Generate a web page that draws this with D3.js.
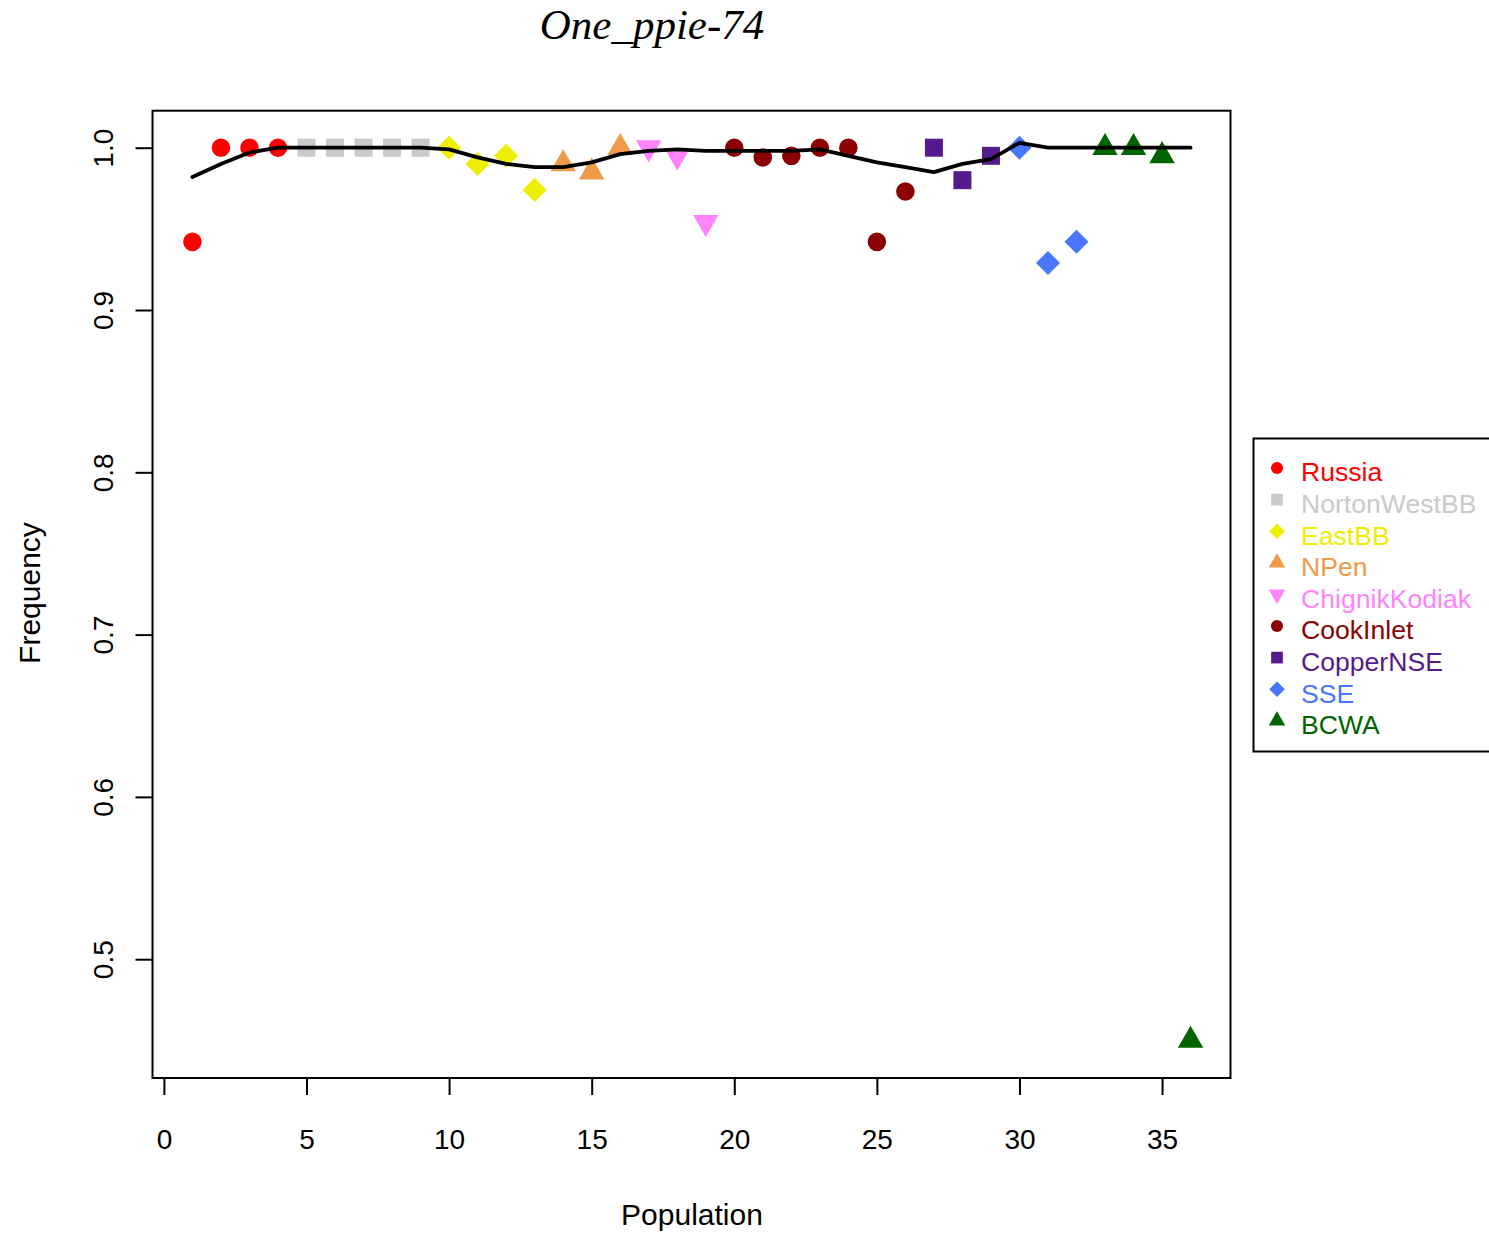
<!DOCTYPE html>
<html>
<head>
<meta charset="utf-8">
<script src="https://cdn.jsdelivr.net/npm/d3@7"></script>
<style>
  html, body { margin: 0; padding: 0; background: #fff; }
  svg { display: block; }
  text { font-family: "Liberation Sans", Arial, sans-serif; }
</style>
</head>
<body>
<svg id="chart" width="1489" height="1233"></svg>
<script>
// ---------------- data ----------------
const groups = ["Russia", "NortonWestBB", "EastBB", "NPen", "ChignikKodiak", "CookInlet", "CopperNSE", "SSE", "BCWA"];
const groupColors = ["#FF0000", "#CDC9C9", "#EEEE00", "#EE9A49", "#FF83FA", "#8B0000", "#551A8B", "#4876FF", "#006400"];
const groupShapes = ["circle", "square", "diamond", "triUp", "triDown", "circle", "square", "diamond", "triUp"];

const populations = [1, 2, 3, 4, 5, 6, 7, 8, 9, 10, 11, 12, 13, 14, 15, 16, 17, 18, 19, 20, 21, 22, 23, 24, 25, 26, 27, 28, 29, 30, 31, 32, 33, 34, 35, 36];
const popGroup =    [0, 0, 0, 0, 1, 1, 1, 1, 1, 2, 2, 2, 2, 3, 3, 3, 4, 4, 4, 5, 5, 5, 5, 5, 5, 5, 6, 6, 6, 7, 7, 7, 8, 8, 8, 8];
const frequency = [
  0.942, 1.0, 1.0, 1.0,
  1.0, 1.0, 1.0, 1.0, 1.0,
  1.0, 0.990, 0.995, 0.974,
  0.990, 0.985, 1.0,
  1.0, 0.995, 0.954,
  1.0, 0.994, 0.995, 1.0, 1.0, 0.942, 0.973,
  1.0, 0.980, 0.995,
  1.0, 0.929, 0.942,
  1.0, 1.0, 0.995, 0.450
];
const smoothed = [
  0.982, 0.990, 0.997, 1.0, 1.0, 1.0, 1.0, 1.0, 1.0,
  0.999, 0.994, 0.990, 0.988, 0.988, 0.991, 0.996,
  0.998, 0.999, 0.998, 0.998, 0.998, 0.998, 0.999, 0.995,
  0.991, 0.988, 0.985, 0.990, 0.993, 1.003, 1.0,
  1.0, 1.0, 1.0, 1.0, 1.0
];
const xTicks = [0, 5, 10, 15, 20, 25, 30, 35];
const yTicks = [0.5, 0.6, 0.7, 0.8, 0.9, 1.0];
const titleText = "One_ppie-74";
const xLabel = "Population";
const yLabel = "Frequency";

// ---------------- layout ----------------
const svg = d3.select("#chart");
const box = { left: 152.5, right: 1230.5, top: 110.7, bottom: 1078 };

const x = d3.scaleLinear().domain([-0.4, 37.4]).range([box.left, box.right]);
const y = d3.scaleLinear().domain([0.4268, 1.0228]).range([box.bottom, box.top]);

// marker path generators (R pch 15/16/17/18 and down-triangle)
function shapePath(shape, s) {
  const p = d3.path();
  if (shape === "circle") {
    p.arc(0, 0, 9.3 * s, 0, 2 * Math.PI);
  } else if (shape === "square") {
    const h = 9 * s;
    p.rect(-h, -h, 2 * h, 2 * h);
  } else if (shape === "diamond") {
    const h = 12 * s;
    p.moveTo(0, -h); p.lineTo(h, 0); p.lineTo(0, h); p.lineTo(-h, 0); p.closePath();
  } else if (shape === "triUp") {
    const r = 14.7 * s, xc = r * Math.sqrt(3) / 2;
    p.moveTo(0, -r); p.lineTo(xc, r / 2); p.lineTo(-xc, r / 2); p.closePath();
  } else if (shape === "triDown") {
    const r = 14.7 * s, xc = r * Math.sqrt(3) / 2;
    p.moveTo(0, r); p.lineTo(xc, -r / 2); p.lineTo(-xc, -r / 2); p.closePath();
  }
  return p.toString();
}

// title
svg.append("text")
  .attr("x", 652).attr("y", 39)
  .attr("text-anchor", "middle")
  .style("font-family", "'Liberation Serif', 'Times New Roman', serif")
  .style("font-style", "italic")
  .style("font-size", "43px")
  .text(titleText);

// points
const pts = svg.append("g");
populations.forEach((pop, i) => {
  const g = popGroup[i];
  pts.append("path")
    .attr("d", shapePath(groupShapes[g], 1))
    .attr("transform", `translate(${x(pop)},${y(frequency[i])})`)
    .attr("fill", groupColors[g]);
});

// smoothed line
const line = d3.line().x((d, i) => x(populations[i])).y(d => y(d));
svg.append("path")
  .datum(smoothed)
  .attr("d", line)
  .attr("fill", "none")
  .attr("stroke", "#000")
  .attr("stroke-width", 3.8)
  .attr("stroke-linejoin", "round")
  .attr("stroke-linecap", "round");

// plot box
svg.append("rect")
  .attr("x", box.left).attr("y", box.top)
  .attr("width", box.right - box.left).attr("height", box.bottom - box.top)
  .attr("fill", "none").attr("stroke", "#000").attr("stroke-width", 2);

// x axis
const xAxis = svg.append("g")
  .attr("transform", `translate(0,${box.bottom})`)
  .call(d3.axisBottom(x).tickValues(xTicks).tickSize(17).tickSizeOuter(0).tickFormat(d3.format("d")));
xAxis.select(".domain").remove();
xAxis.selectAll(".tick line").attr("stroke", "#000").attr("stroke-width", 2);
xAxis.selectAll(".tick text")
  .attr("y", 61).attr("dy", "0.35em")
  .style("font-size", "28px").attr("fill", "#000")
  .style("font-family", "'Liberation Sans', Arial, sans-serif");

// y axis
const yAxis = svg.append("g")
  .attr("transform", `translate(${box.left},0)`)
  .call(d3.axisLeft(y).tickValues(yTicks).tickSize(17).tickSizeOuter(0).tickFormat(d3.format(".1f")));
yAxis.select(".domain").remove();
yAxis.selectAll(".tick line").attr("stroke", "#000").attr("stroke-width", 2);
yAxis.selectAll(".tick text")
  .attr("x", 0).attr("y", 0).attr("dy", "0.35em")
  .attr("text-anchor", "middle")
  .attr("transform", "translate(-49,0) rotate(-90)")
  .style("font-size", "28px").attr("fill", "#000")
  .style("font-family", "'Liberation Sans', Arial, sans-serif");

// axis labels
svg.append("text")
  .attr("x", 692).attr("y", 1214).attr("dy", "0.35em")
  .attr("text-anchor", "middle")
  .style("font-size", "30px")
  .text(xLabel);
svg.append("text")
  .attr("transform", "translate(29,593) rotate(-90)")
  .attr("dy", "0.35em")
  .attr("text-anchor", "middle")
  .style("font-size", "30px")
  .text(yLabel);

// legend
const legend = svg.append("g");
legend.append("rect")
  .attr("x", 1253.5).attr("y", 438.5)
  .attr("width", 260).attr("height", 313)
  .attr("fill", "#fff").attr("stroke", "#000").attr("stroke-width", 2);
groups.forEach((name, i) => {
  const cy = 471 + i * 31.6;
  legend.append("path")
    .attr("d", shapePath(groupShapes[i], 0.65))
    .attr("transform", `translate(1277,${cy - 3})`)
    .attr("fill", groupColors[i]);
  legend.append("text")
    .attr("x", 1301).attr("y", cy + 1).attr("dy", "0.35em")
    .style("font-size", "26.6px")
    .attr("fill", groupColors[i])
    .text(name);
});
</script>
</body>
</html>
